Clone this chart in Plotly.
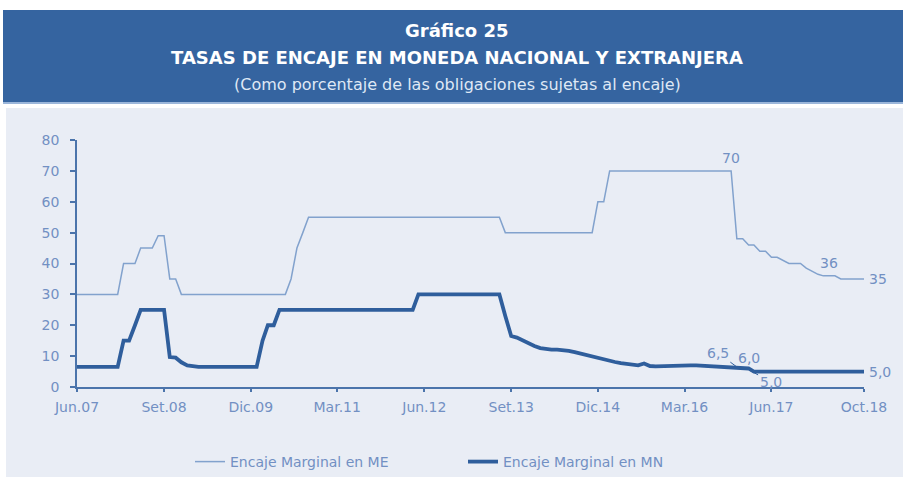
import plotly.graph_objects as go

# ---- data ----
me_dates = ["2007-06", "2008-01", "2008-02", "2008-04", "2008-05", "2008-07", "2008-08",
            "2008-09", "2008-10", "2008-11", "2008-12", "2010-06", "2010-07", "2010-08",
            "2010-09", "2010-10", "2013-07", "2013-08", "2014-11", "2014-12", "2015-01",
            "2015-02", "2016-11", "2016-12", "2017-01", "2017-02", "2017-03", "2017-04",
            "2017-05", "2017-06", "2017-07", "2017-08", "2017-09", "2017-10", "2017-11",
            "2017-12", "2018-01", "2018-02", "2018-03", "2018-04", "2018-05", "2018-06",
            "2018-10"]
me_values = [30, 30, 40, 40, 45, 45, 49, 49, 35, 35, 30, 30, 35, 45, 50, 55, 55, 50, 50, 60,
             60, 70, 70, 48, 48, 46, 46, 44, 44, 42, 42, 41, 40, 40, 40, 38.5, 37.5, 36.5,
             36, 36, 36, 35, 35]

mn_dates = ["2007-06", "2008-01", "2008-02", "2008-03", "2008-04", "2008-05", "2008-09",
            "2008-10", "2008-11", "2008-12", "2009-01", "2009-02", "2009-03", "2010-01",
            "2010-02", "2010-03", "2010-04", "2010-05", "2012-04", "2012-05", "2013-07",
            "2013-08", "2013-09", "2013-10", "2013-11", "2013-12", "2014-01", "2014-02",
            "2014-03", "2014-04", "2014-05", "2014-06", "2014-07", "2014-08", "2014-09",
            "2014-10", "2014-11", "2014-12", "2015-01", "2015-02", "2015-03", "2015-04",
            "2015-05", "2015-06", "2015-07", "2015-08", "2015-09", "2015-10", "2015-11",
            "2015-12", "2016-01", "2016-02", "2016-03", "2016-04", "2016-05", "2016-06",
            "2016-07", "2016-08", "2016-09", "2016-10", "2016-11", "2016-12", "2017-01",
            "2017-02", "2017-03", "2018-10"]
mn_values = [6.5, 6.5, 15, 15, 20, 25, 25, 9.7, 9.5, 8, 7, 6.8, 6.5, 6.5, 15, 20, 20, 25,
             25, 30, 30, 23, 16.5, 16, 15, 14.3, 13.3, 12.6, 12.3, 12.1, 12.1, 12, 11.7,
             11.3, 10.8, 10.3, 9.8, 9.4, 9, 8.5, 8.1, 7.7, 7.4, 7.1, 7.0, 7.6, 6.8, 6.7,
             6.8, 6.9, 7.0, 7.0, 7.1, 7.0, 7.0, 6.9, 6.8, 6.8, 6.7, 6.6, 6.5, 6.5, 6.3,
             6.0, 5.0, 5.0]

tick_dates = ["2007-06", "2008-09", "2009-12", "2011-03", "2012-06", "2013-09",
              "2014-12", "2016-03", "2017-06", "2018-10"]
tick_labels = ["Jun.07", "Set.08", "Dic.09", "Mar.11", "Jun.12", "Set.13",
               "Dic.14", "Mar.16", "Jun.17", "Oct.18"]
y_ticks = [0, 10, 20, 30, 40, 50, 60, 70, 80]

# ---- styling ----
BANNER = "#3564a0"
BG = "#e9edf5"
ME_COLOR = "#82a2cd"
MN_COLOR = "#2f5e9c"
TXT = "#7290c3"
AXIS = "#4b74ab"
FONT = "DejaVu Sans"

W, H = 903, 477
L, R, T, B = 77, 39, 140, 90
PW, PH = W - L - R, H - T - B


def px(x):
    return (x - L) / PW


def py(y):
    return (T + PH - y) / PH


fig = go.Figure()
fig.add_trace(go.Scatter(x=me_dates, y=me_values, mode="lines", name="Encaje Marginal en ME",
                         line=dict(color=ME_COLOR, width=1.5)))
fig.add_trace(go.Scatter(x=mn_dates, y=mn_values, mode="lines", name="Encaje Marginal en MN",
                         line=dict(color=MN_COLOR, width=3.8)))

shapes = [
    dict(type="rect", xref="paper", yref="paper", x0=px(6), x1=px(903), y0=py(477), y1=py(108),
         fillcolor=BG, line_width=0, layer="below"),
    dict(type="rect", xref="paper", yref="paper", x0=px(3), x1=px(903), y0=py(102), y1=py(10),
         fillcolor=BANNER, line_width=0, layer="below"),
    dict(type="rect", xref="paper", yref="paper", x0=px(3), x1=px(903), y0=py(104), y1=py(102),
         fillcolor="#9bb6da", line_width=0, layer="below"),
]

annotations = [
    dict(text="<b>Gráfico 25</b>", xref="paper", yref="paper", x=px(457), y=py(30),
         xanchor="center", yanchor="middle", showarrow=False,
         font=dict(family=FONT, size=18, color="white")),
    dict(text="<b>TASAS DE ENCAJE EN MONEDA NACIONAL Y EXTRANJERA</b>", xref="paper",
         yref="paper", x=px(457), y=py(57), xanchor="center", yanchor="middle",
         showarrow=False, font=dict(family=FONT, size=18, color="white")),
    dict(text="(Como porcentaje de las obligaciones sujetas al encaje)", xref="paper",
         yref="paper", x=px(457), y=py(84), xanchor="center", yanchor="middle",
         showarrow=False, font=dict(family=FONT, size=16, color="#dfe8f5")),
    # value labels
    dict(text="70", x="2016-11", y=70, yshift=13, showarrow=False,
         font=dict(family=FONT, size=14, color=TXT)),
    dict(text="36", x="2018-04", y=36, yshift=13, showarrow=False,
         font=dict(family=FONT, size=14, color=TXT)),
    dict(text="35", x="2018-10", y=35, xanchor="left", xshift=3, showarrow=False,
         font=dict(family=FONT, size=14, color=TXT)),
    dict(text="5,0", x="2018-10", y=5, xanchor="left", xshift=3, showarrow=False,
         font=dict(family=FONT, size=14, color=TXT)),
    dict(text="6,5", x="2016-12", y=6.5, ax=-19, ay=-14, showarrow=True, arrowhead=0,
         arrowwidth=1, arrowcolor=MN_COLOR, font=dict(family=FONT, size=14, color=TXT)),
    dict(text="6,0", x="2017-02", y=6.0, yshift=10, showarrow=False,
         font=dict(family=FONT, size=14, color=TXT)),
    dict(text="5,0", x="2017-02", y=5.6, ax=22, ay=12, showarrow=True, arrowhead=0,
         arrowwidth=1, arrowcolor=MN_COLOR, font=dict(family=FONT, size=14, color=TXT)),
]

fig.update_layout(
    width=W, height=H,
    margin=dict(l=L, r=R, t=T, b=B, pad=0, autoexpand=False),
    paper_bgcolor="white",
    plot_bgcolor=BG,
    font=dict(family=FONT, size=14, color=TXT),
    shapes=shapes,
    annotations=annotations,
    showlegend=True,
    legend=dict(orientation="h", x=px(190), y=py(462), xanchor="left", yanchor="middle",
                bgcolor="rgba(0,0,0,0)", font=dict(family=FONT, size=14, color=TXT),
                entrywidth=228, entrywidthmode="pixels"),
    xaxis=dict(type="date", range=["2007-06-01", "2018-10-01"], tickvals=tick_dates,
               ticktext=tick_labels, showgrid=False, zeroline=False, showline=True,
               linecolor=AXIS, linewidth=1.5, ticks="outside", ticklen=3, tickcolor=AXIS,
               tickwidth=1.5, ticklabelstandoff=3,
               tickfont=dict(family=FONT, size=14, color=TXT)),
    yaxis=dict(range=[0, 80], tickvals=y_ticks, showgrid=False, zeroline=False,
               showline=True, linecolor=AXIS, linewidth=1.5, ticks="outside", ticklen=5,
               tickcolor=AXIS, tickwidth=1.5, ticklabelstandoff=8,
               tickfont=dict(family=FONT, size=14, color=TXT)),
)

fig.write_html("out.html", config={"displayModeBar": False},
               post_script="document.body.style.margin='0';")
